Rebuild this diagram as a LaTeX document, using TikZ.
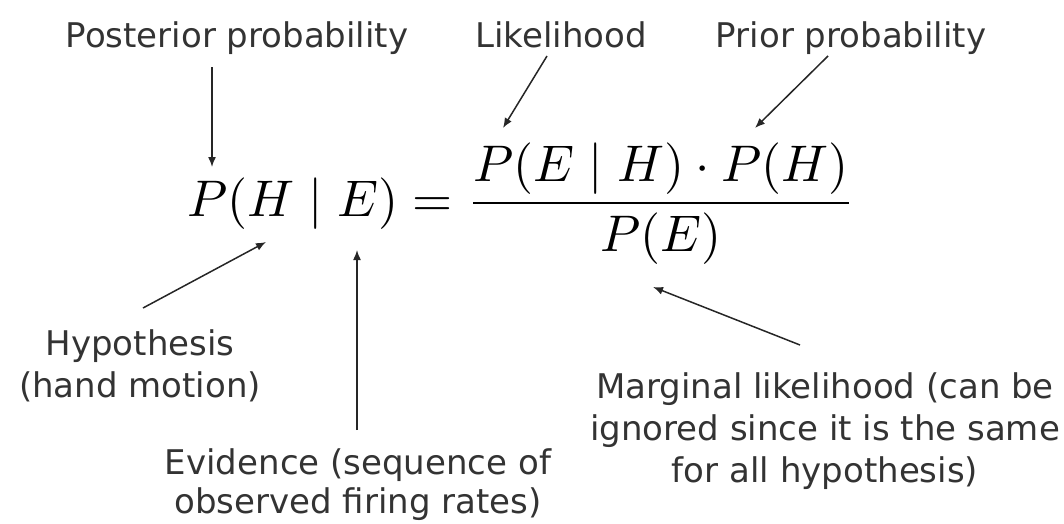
\documentclass[tikz,border=0pt]{standalone}
\usepackage{fontspec}
\setmainfont{DejaVu Sans}
\usetikzlibrary{arrows.meta}

\tikzset{
  etiqueta/.style={font=\fontsize{34}{42}\selectfont, text=black!80, align=center, inner sep=0pt, anchor=base},
  formula/.style={scale=5.15, inner sep=0pt, anchor=base},
  flecha/.style={-{Latex[length=10pt,width=8pt]}, line width=1.5pt, black!85}
}

\begin{document}
\begin{tikzpicture}[x=1pt,y=-1pt]
        \useasboundingbox (0,0) rectangle (1064,523);

        % Formula de Bayes
        \node[formula] (bayes) at (521,216) {$\displaystyle P(H\mid E)=\frac{P(E\mid H)\cdot P(H)}{P(E)}$};

        % Etiquetas superiores
        \node[etiqueta] (posterior) at (237,47) {Posterior probability};
        \node[etiqueta] (likelihood) at (561,47) {Likelihood};
        \node[etiqueta] (prior) at (851,47) {Prior probability};

        % Etiquetas inferiores (base = ultima linea)
        \node[etiqueta] (hypothesis) at (140,397) {Hypothesis\\(hand motion)};
        \node[etiqueta, font=\fontsize{34}{39}\selectfont] (evidence) at (358,513) {Evidence (sequence of\\observed firing rates)};
        \node[etiqueta] (marginal) at (825,482) {Marginal likelihood (can be\\ignored since it is the same\\for all hypothesis)};

        % Extremos de las flechas
        \coordinate (postA) at (212,67);   \coordinate (postB) at (212,167);
        \coordinate (likeA) at (547,56);   \coordinate (likeB) at (503,128);
        \coordinate (priorA) at (828,56);  \coordinate (priorB) at (755,128);
        \coordinate (hypA) at (143,308);   \coordinate (hypB) at (266,242);
        \coordinate (evA) at (357,430);    \coordinate (evB) at (357,250);
        \coordinate (margA) at (800,345);  \coordinate (margB) at (653,287);

        % Flechas
        \draw[flecha] (postA) -- (postB);
        \draw[flecha] (likeA) -- (likeB);
        \draw[flecha] (priorA) -- (priorB);
        \draw[flecha] (hypA) -- (hypB);
        \draw[flecha] (evA) -- (evB);
        \draw[flecha] (margA) -- (margB);
    \end{tikzpicture}
\end{document}
